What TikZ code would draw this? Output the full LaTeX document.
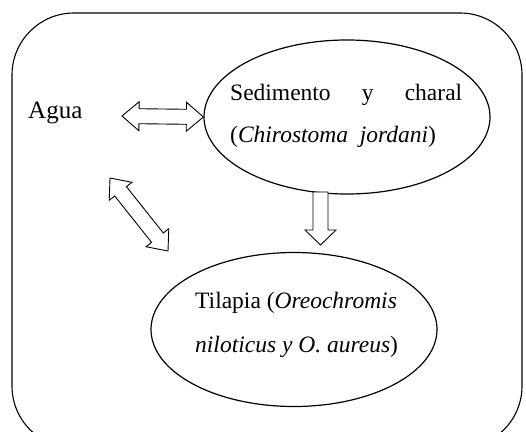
\documentclass[tikz,border=0pt]{standalone}
\usepackage{fontspec}
\setmainfont{Liberation Serif}
\usetikzlibrary{shapes.geometric,calc}
\tikzset{
  frame/.style={draw, line width=1.1pt, rounded corners=62pt},
  blob/.style={draw, ellipse, line width=1.2pt, minimum width=286pt, minimum height=154pt, inner sep=0pt},
  lbl/.style={inner sep=0pt, anchor=base west, font=\fontsize{23.5}{28}\selectfont},
  fatdbl/.style={draw, fill=white, line width=0.9pt, line join=miter, to path={
    (\tikztostart)
    -- ($(\tikztostart)!17pt!(\tikztotarget)!14.5pt!90:(\tikztotarget)$)
    -- ($(\tikztostart)!17pt!(\tikztotarget)!7.5pt!90:(\tikztotarget)$)
    -- ($(\tikztotarget)!17pt!(\tikztostart)!7.5pt!-90:(\tikztostart)$)
    -- ($(\tikztotarget)!17pt!(\tikztostart)!14.5pt!-90:(\tikztostart)$)
    -- (\tikztotarget)
    -- ($(\tikztotarget)!17pt!(\tikztostart)!14.5pt!90:(\tikztostart)$)
    -- ($(\tikztotarget)!17pt!(\tikztostart)!7.5pt!90:(\tikztostart)$)
    -- ($(\tikztostart)!17pt!(\tikztotarget)!7.5pt!-90:(\tikztotarget)$)
    -- ($(\tikztostart)!17pt!(\tikztotarget)!14.5pt!-90:(\tikztotarget)$)
    -- cycle}},
  fatsgl/.style={draw, fill=white, line width=0.9pt, line join=miter, to path={
    ($(\tikztostart)!7.5pt!90:(\tikztotarget)$)
    -- ($(\tikztotarget)!15pt!(\tikztostart)!7.5pt!-90:(\tikztostart)$)
    -- ($(\tikztotarget)!15pt!(\tikztostart)!15.5pt!-90:(\tikztostart)$)
    -- (\tikztotarget)
    -- ($(\tikztotarget)!15pt!(\tikztostart)!15.5pt!90:(\tikztostart)$)
    -- ($(\tikztotarget)!15pt!(\tikztostart)!7.5pt!90:(\tikztostart)$)
    -- ($(\tikztostart)!7.5pt!-90:(\tikztotarget)$)
    -- cycle}}
}
\begin{document}
\begin{tikzpicture}[x=1pt, y=-1pt]
\useasboundingbox (0,0) rectangle (526,431);
\clip (0,0) rectangle (526,431);
\draw[frame] (12,13) rectangle (522,448);

\node[blob] (sed) at (347,117) {};
\node[blob] (til) at (294,329.5) {};

\node[lbl] (agua) at (28,118) {\fontsize{25}{30}\selectfont Agua};
\node[lbl] (sed1) at (230,100) {\makebox[232pt][s]{Sedimento\hfill y\hfill charal}};
\node[lbl] (sed2) at (230,142) {(\textit{Chirostoma\ \ jordani})};
\node[lbl] (til1) at (195,308) {Tilapia (\textit{Oreochromis}};
\node[lbl] (til2) at (195,352) {\textit{niloticus y O. aureus})};

\coordinate (h1) at (122,116);
\coordinate (h2) at (sed.west);
\coordinate (d1) at (110,178);
\coordinate (d2) at (168,251);
\coordinate (v1) at (320.5,192);
\coordinate (v2) at (320.5,245);

\draw[fatdbl] (h1) to (h2);
\draw[fatdbl] (d1) to (d2);
\draw[fatsgl] (v1) to (v2);
\end{tikzpicture}
\end{document}
